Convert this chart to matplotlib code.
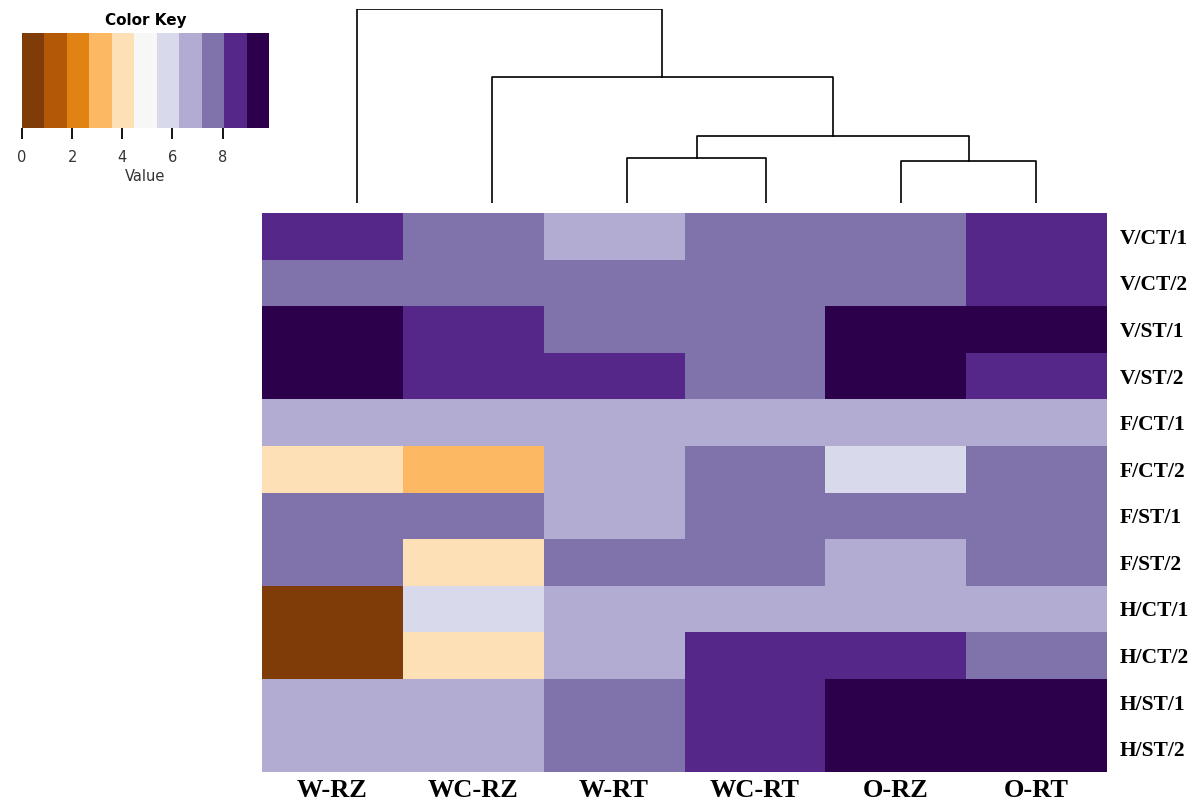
import matplotlib.pyplot as plt
import numpy as np
from matplotlib.colors import BoundaryNorm, ListedColormap

# Column / row labels
samples = ["W-RZ", "WC-RZ", "W-RT", "WC-RT", "O-RZ", "O-RT"]
groups = [
    "V/CT/1", "V/CT/2", "V/ST/1", "V/ST/2",
    "F/CT/1", "F/CT/2", "F/ST/1", "F/ST/2",
    "H/CT/1", "H/CT/2", "H/ST/1", "H/ST/2",
]

# Scores per group (rows) and sample (columns)
v_ct_1 = [8.5, 7.5, 6.8, 7.5, 7.5, 8.5]
v_ct_2 = [7.5, 7.5, 7.5, 7.5, 7.5, 8.5]
v_st_1 = [9.5, 8.5, 7.5, 7.5, 9.5, 9.5]
v_st_2 = [9.5, 8.5, 8.5, 7.5, 9.5, 8.5]
f_ct_1 = [6.8, 6.8, 6.8, 6.8, 6.8, 6.8]
f_ct_2 = [4.0, 3.0, 6.8, 7.5, 5.8, 7.5]
f_st_1 = [7.5, 7.5, 6.8, 7.5, 7.5, 7.5]
f_st_2 = [7.5, 4.0, 7.5, 7.5, 6.8, 7.5]
h_ct_1 = [0.5, 5.8, 6.8, 6.8, 6.8, 6.8]
h_ct_2 = [0.5, 4.0, 6.8, 8.5, 8.5, 7.5]
h_st_1 = [6.8, 6.8, 7.5, 8.5, 9.5, 9.5]
h_st_2 = [6.8, 6.8, 7.5, 8.5, 9.5, 9.5]

# Column clustering: (left, right, height); leaves 0..5, new clusters 6, 7, ...
merges = [
    (4, 5, 42),
    (2, 3, 45),
    (7, 6, 67),
    (1, 8, 126),
    (0, 9, 194),
]

key_colors = ["#7F3B08", "#B35806", "#E08214", "#FDB863", "#FEE0B6", "#F7F7F7",
              "#D8DAEB", "#B2ABD2", "#8073AC", "#542788", "#2D004B"]
key_max = 9.85
key_ticks = [0, 2, 4, 6, 8]

values = np.array([v_ct_1, v_ct_2, v_st_1, v_st_2, f_ct_1, f_ct_2,
                   f_st_1, f_st_2, h_ct_1, h_ct_2, h_st_1, h_st_2])

cmap = ListedColormap(key_colors)
bounds = np.linspace(0, key_max, len(key_colors) + 1)
norm = BoundaryNorm(bounds, cmap.N)

W, H = 1202, 809
fig = plt.figure(figsize=(W / 100, H / 100), dpi=100)


def px_axes(x0, y0, x1, y1):
    return fig.add_axes([x0 / W, 1 - y1 / H, (x1 - x0) / W, (y1 - y0) / H])


# heatmap
ax = px_axes(262, 213, 1107, 772)
ax.pcolormesh(values, cmap=cmap, norm=norm)
ax.set_xlim(0, len(samples))
ax.set_ylim(len(groups), 0)
for s in ax.spines.values():
    s.set_visible(False)
ax.set_xticks(np.arange(len(samples)) + 0.5)
ax.set_xticklabels(samples, fontfamily="Liberation Serif", fontweight="bold", fontsize=19)
ax.set_yticks(np.arange(len(groups)) + 0.5)
ax.set_yticklabels(groups, fontfamily="Liberation Serif", fontweight="bold", fontsize=15.5)
ax.yaxis.tick_right()
ax.tick_params(length=0, pad=9)
ax.tick_params(axis="x", pad=5)

# column dendrogram
dax = px_axes(262, 9, 1107, 203)
leaf_x = [357, 492, 627, 766, 901, 1036]
pos = {i: (x, 0) for i, x in enumerate(leaf_x)}
for k, (a, b, h) in enumerate(merges):
    xa, ha = pos[a]
    xb, hb = pos[b]
    dax.plot([xa, xa, xb, xb], [ha, h, h, hb], color="black", lw=1.2)
    pos[len(leaf_x) + k] = ((xa + xb) / 2, h)
dax.set_xlim(262, 1107)
dax.set_ylim(0, 194)
dax.axis("off")

# color key
kax = px_axes(22, 33, 269, 128)
kax.pcolormesh(bounds, [0, 1], np.array([(bounds[:-1] + bounds[1:]) / 2]), cmap=cmap, norm=norm)
kax.set_xlim(0, key_max)
kax.set_ylim(0, 1)
kax.set_yticks([])
kax.set_xticks(key_ticks)
kax.tick_params(axis="x", labelsize=10.5, labelcolor="#333333", length=8, width=1.3, pad=8)
for s in kax.spines.values():
    s.set_visible(False)
kax.set_xlabel("Value", fontsize=10.5, color="#333333", labelpad=3)
kax.set_title("Color Key", fontsize=11, fontweight="bold", pad=6)

fig.savefig("out.png", dpi=100)
